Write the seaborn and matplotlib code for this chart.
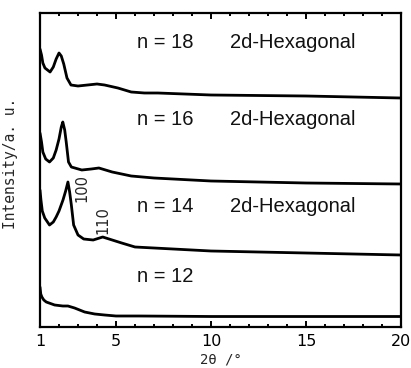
import pandas as pd
import numpy as np
import seaborn as sns
import matplotlib
matplotlib.use('Agg')
import matplotlib.pyplot as plt
from matplotlib.ticker import FixedLocator, MultipleLocator

# XRD patterns: 2theta in degrees, intensity in a.u. (stacked offsets included)
tt_18 = [1.0, 1.08, 1.15, 1.26, 1.53, 1.7, 1.85, 2.0, 2.12, 2.25, 2.42, 2.63, 3.0, 3.5, 4.0, 4.4, 5.1, 5.8, 6.5, 7.2, 10, 15, 20]
int_18 = [278, 272, 264, 259, 255, 260, 268, 274, 271, 263, 249, 242, 241, 242, 243, 242, 239, 235, 234, 234, 232, 231, 229]

tt_16 = [1.0, 1.08, 1.15, 1.3, 1.5, 1.7, 1.85, 2.0, 2.12, 2.2, 2.3, 2.38, 2.5, 2.65, 3.2, 3.7, 4.1, 4.8, 5.8, 7.0, 10, 15, 20]
int_16 = [194, 185, 175, 168, 165, 169, 177, 188, 200, 205, 197, 185, 165, 160, 157, 158, 159, 155, 151, 149, 146, 144, 143]

tt_14 = [1.0, 1.05, 1.12, 1.25, 1.5, 1.7, 1.85, 2.0, 2.21, 2.35, 2.47, 2.56, 2.65, 2.77, 3.0, 3.3, 3.8, 4.3, 4.8, 5.3, 6.0, 7.0, 10, 15, 20]
int_14 = [137, 127, 116, 109, 102, 105, 110, 116, 127, 136, 145, 135, 122, 102, 92, 88, 87, 90, 87, 84, 80, 79, 76, 74, 72]

tt_12 = [1.0, 1.04, 1.1, 1.2, 1.33, 1.77, 2.2, 2.47, 2.82, 3.35, 3.88, 4.4, 5.0, 6.2, 10, 15, 20]
int_12 = [40, 33, 30, 27, 25, 22, 21, 21, 19, 15, 13, 12, 11, 11, 10.5, 10.5, 10.5]

sample_labels = ['n = 18', 'n = 16', 'n = 14', 'n = 12']
phase_labels = ['2d-Hexagonal', '2d-Hexagonal', '2d-Hexagonal', '']
peak_labels = ['100', '110']
x_ticks = [1, 5, 10, 15, 20]

df = pd.concat([
    pd.DataFrame({'tt': tt_18, 'I': int_18, 'n': sample_labels[0]}),
    pd.DataFrame({'tt': tt_16, 'I': int_16, 'n': sample_labels[1]}),
    pd.DataFrame({'tt': tt_14, 'I': int_14, 'n': sample_labels[2]}),
    pd.DataFrame({'tt': tt_12, 'I': int_12, 'n': sample_labels[3]}),
])

sns.set_style('white')
mono = ['DejaVu Sans Mono', 'DejaVu Sans']

fig = plt.figure(figsize=(4.11, 3.68), dpi=100)
ax = fig.add_axes([40 / 411, 41 / 368, 361 / 411, 314 / 368])

sns.lineplot(data=df, x='tt', y='I', hue='n', palette=['black'] * 4,
             estimator=None, sort=False, legend=False, linewidth=2.0, ax=ax)

ax.set_xlim(1, 20)
ax.set_ylim(0, 314)

# sample / phase labels
label_y = [279, 202, 115, 45]
for lab, ph, ly in zip(sample_labels, phase_labels, label_y):
    ax.text(6.1, ly, lab, fontsize=14.5, family='Liberation Sans', va='baseline', color='#111111')
    if ph:
        ax.text(11.0, ly, ph, fontsize=14.5, family='Liberation Sans', va='baseline', color='#111111')

# peak indices
ax.text(3.21, 138.5, peak_labels[0], rotation=90, ha='center', va='center', fontsize=10.5, family='DejaVu Sans')
ax.text(4.29, 107, peak_labels[1], rotation=90, ha='center', va='center', fontsize=10.5, family='DejaVu Sans')

for sp in ax.spines.values():
    sp.set_linewidth(1.6)
    sp.set_color('black')

ax.xaxis.set_major_locator(FixedLocator(x_ticks))
ax.xaxis.set_minor_locator(MultipleLocator(1))
ax.tick_params(axis='x', which='both', direction='in', top=True, bottom=True, colors='black')
ax.tick_params(axis='x', which='major', length=4, width=1.4, pad=5)
ax.tick_params(axis='x', which='minor', length=2.2, width=1.4)
ax.set_yticks([])
for t in ax.get_xticklabels():
    t.set_family('DejaVu Sans')
    t.set_fontsize(11.5)

ax.set_xlabel('2θ /°', family=mono, fontsize=10, va='bottom')
ax.xaxis.set_label_coords(0.5, -0.126)
ax.set_ylabel('Intensity/a. u.', family=mono, fontsize=10.5, labelpad=8)
ax.yaxis.set_label_coords(-0.06, 0.52)

fig.savefig('out.png', dpi=100)
